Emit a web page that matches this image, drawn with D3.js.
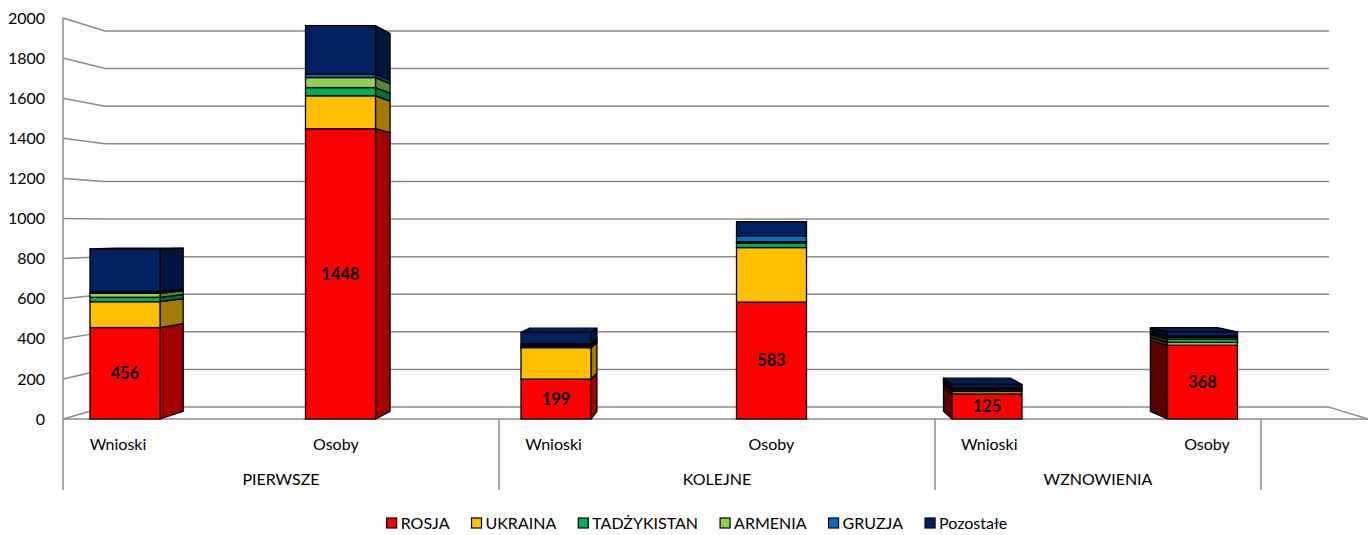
<!DOCTYPE html>
<html>
<head>
<meta charset="utf-8">
<script src="https://cdn.jsdelivr.net/npm/d3@7"></script>
<style>
  body { margin: 0; background: #fff; }
  text { font-family: Lato, "Open Sans", sans-serif; }
</style>
</head>
<body>
<div id="chart"></div>
<script>
// data
var categories = ["Wnioski", "Osoby", "Wnioski", "Osoby", "Wnioski", "Osoby"];
var groups = ["PIERWSZE", "KOLEJNE", "WZNOWIENIA"];
var seriesNames = ["ROSJA", "UKRAINA", "TADŻYKISTAN", "ARMENIA", "GRUZJA", "Pozostałe"];
var rosja       = [456, 1448, 199, 583, 125, 368];
var ukraina     = [129, 164, 157, 272, 12, 14];
var tadzykistan = [22, 41, 8, 23, 8, 16];
var armenia     = [20, 50, 6, 6, 6, 8];
var gruzja      = [8, 17, 6, 30, 6, 8];
var pozostale   = [213, 242, 56, 70, 15, 21];
var colors = ["#ff0000", "#ffc000", "#00b050", "#92d050", "#0070c0", "#002060"];

var width = 1368, height = 535;

var svg = d3.select("#chart")
  .append("svg")
    .attr("width", width)
    .attr("height", height);

// perspective: vanishing point and depth scales
var vx = 740, vy = 227;
var wallDepth = 0.938, barDepth = 0.96;
function proj(x, y, s) { return [vx + (x - vx) * s, vy + (y - vy) * s]; }

var y = d3.scaleLinear().domain([0, 2000]).range([419, 18]);
var xBar = d3.scalePoint().domain(d3.range(categories.length)).range([125, 1202.5]);
var xLab = d3.scalePoint().domain(d3.range(categories.length)).range([118, 1207]);
var barW = 70;
var wallLeft = 63, floorRight = 1368;
var groupEdges = [63, 499, 935, 1261];

// table for the stack
var table = categories.map(function(c, i) {
  return { ROSJA: rosja[i], UKRAINA: ukraina[i], "TADŻYKISTAN": tadzykistan[i],
           ARMENIA: armenia[i], GRUZJA: gruzja[i], "Pozostałe": pozostale[i] };
});
var stacked = d3.stack().keys(seriesNames)(table);

var grid = "#8c8c8c";
var ticks = y.ticks(10);

// back wall + side wall gridlines
var backRight = proj(floorRight, 0, wallDepth)[0];
ticks.forEach(function(t) {
  var f = [wallLeft, y(t)];
  var b = proj(wallLeft, y(t), wallDepth);
  svg.append("line")
    .attr("x1", f[0]).attr("y1", f[1]).attr("x2", b[0]).attr("y2", b[1])
    .attr("stroke", grid).attr("stroke-width", 1.5);
  svg.append("line")
    .attr("x1", b[0]).attr("y1", b[1]).attr("x2", backRight).attr("y2", b[1])
    .attr("stroke", grid).attr("stroke-width", 1.5);
});
// floor edges
var fb = proj(floorRight, y(0), wallDepth);
svg.append("line").attr("x1", fb[0]).attr("y1", fb[1]).attr("x2", floorRight).attr("y2", y(0))
  .attr("stroke", grid).attr("stroke-width", 1.5);
svg.append("line").attr("x1", wallLeft).attr("y1", y(0)).attr("x2", floorRight).attr("y2", y(0))
  .attr("stroke", grid).attr("stroke-width", 1.5);
// left axis line (through category area)
svg.append("line").attr("x1", wallLeft).attr("y1", y(2000)).attr("x2", wallLeft).attr("y2", 490)
  .attr("stroke", grid).attr("stroke-width", 1.5);

// y tick labels
svg.selectAll(".ylab").data(ticks).enter().append("text")
  .attr("x", 45).attr("y", function(d) { return y(d); })
  .attr("dy", "0.35em")
  .attr("text-anchor", "end")
  .attr("font-size", "16px")
  .attr("fill", "#000")
  .text(function(d) { return d; });

// bars
function shade(c, k) {
  var r = d3.rgb(c);
  return d3.rgb(r.r * k, r.g * k, r.b * k).toString();
}
function pts(a) { return a.map(function(p) { return p.join(","); }).join(" "); }

var bars = svg.append("g");
categories.forEach(function(c, i) {
  var x0 = xBar(i) - barW / 2, x1 = xBar(i) + barW / 2;
  var g = bars.append("g");
  var topIdx = stacked.length - 1;
  // side faces
  stacked.forEach(function(s, k) {
    var yb = y(s[i][0]), yt = y(s[i][1]);
    var sideX, sideK;
    if (x1 < vx) { sideX = x1; sideK = 0.64; }
    else if (x0 > vx) { sideX = x0; sideK = 0.36; }
    else return;
    var quad = [[sideX, yb], [sideX, yt], proj(sideX, yt, barDepth), proj(sideX, yb, barDepth)];
    g.append("polygon").attr("points", pts(quad))
      .attr("fill", shade(colors[k], sideK))
      .attr("stroke", "#000").attr("stroke-width", 1.3).attr("stroke-linejoin", "round");
  });
  // top face
  var topY = y(stacked[topIdx][i][1]);
  if (topY > vy) {
    var tq = [[x0, topY], [x1, topY], proj(x1, topY, barDepth), proj(x0, topY, barDepth)];
    g.append("polygon").attr("points", pts(tq))
      .attr("fill", shade(colors[topIdx], 0.9))
      .attr("stroke", "#000").attr("stroke-width", 1.3).attr("stroke-linejoin", "round");
  }
  // front faces
  stacked.forEach(function(s, k) {
    var yb = y(s[i][0]), yt = y(s[i][1]);
    g.append("rect")
      .attr("x", x0).attr("y", yt)
      .attr("width", barW).attr("height", yb - yt)
      .attr("fill", colors[k])
      .attr("stroke", "#000").attr("stroke-width", 1.3);
  });
  // value label on ROSJA
  svg.append("text")
    .attr("x", xBar(i)).attr("y", (y(0) + y(rosja[i])) / 2)
    .attr("dy", "0.35em")
    .attr("text-anchor", "middle")
    .attr("font-size", "16.5px").attr("font-weight", "bold")
    .attr("fill", "#000")
    .text(rosja[i]);
});

// category axis
svg.selectAll(".clab").data(categories).enter().append("text")
  .attr("x", function(d, i) { return xLab(i); })
  .attr("y", 444).attr("dy", "0.35em")
  .attr("text-anchor", "middle")
  .attr("font-size", "16px")
  .text(function(d) { return d; });

groupEdges.slice(1).forEach(function(e) {
  svg.append("line").attr("x1", e).attr("y1", y(0)).attr("x2", e).attr("y2", 490)
    .attr("stroke", grid).attr("stroke-width", 1.5);
});
svg.selectAll(".glab").data(groups).enter().append("text")
  .attr("x", function(d, i) { return (groupEdges[i] + groupEdges[i + 1]) / 2; })
  .attr("y", 479).attr("dy", "0.35em")
  .attr("text-anchor", "middle")
  .attr("font-size", "16px")
  .text(function(d) { return d; });

// legend
var legend = svg.append("g");
var lx = 0;
seriesNames.forEach(function(n, k) {
  var item = legend.append("g").attr("transform", "translate(" + lx + ",0)");
  item.append("rect").attr("x", 0).attr("y", -5).attr("width", 10).attr("height", 10)
    .attr("fill", colors[k]).attr("stroke", "#000").attr("stroke-width", 1.2);
  var t = item.append("text").attr("x", 14).attr("y", 0).attr("dy", "0.35em")
    .attr("font-size", "16px").text(n);
  lx += 14 + t.node().getComputedTextLength() + 22;
});
lx -= 22;
legend.attr("transform", "translate(" + (697 - lx / 2) + ",523)");
</script>
</body>
</html>
